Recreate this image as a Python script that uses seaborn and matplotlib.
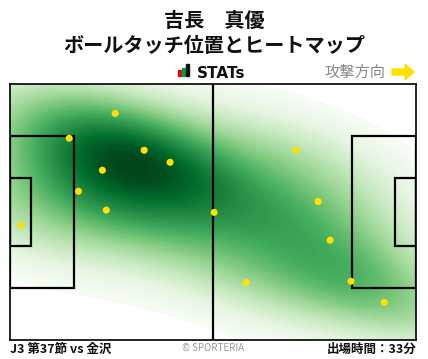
import matplotlib
matplotlib.use("Agg")
import matplotlib.pyplot as plt
import seaborn as sns
import numpy as np
import pandas as pd
from matplotlib.patches import Rectangle, FancyArrow

sns.set_theme(style="white")
plt.rcParams['font.family'] = ['Noto Sans CJK JP', 'DejaVu Sans']

# touch positions in metres (x: 0-105 attacking to the right, y: 0-68 from top)
touch_x = [27.2, 15.3, 34.7, 41.4, 23.9, 17.7, 24.9, 2.8, 52.8, 74.0, 79.7, 82.8, 61.1, 88.2, 96.8]
touch_y = [7.8, 14.4, 17.6, 20.8, 22.9, 28.5, 33.5, 37.5, 34.1, 17.6, 31.2, 41.5, 52.7, 52.4, 58.0]

title_name = "吉長　真優"
title_sub = "ボールタッチ位置とヒートマップ"
footer_left = "J3 第37節 vs 金沢"
footer_right = "出場時間：33分"
direction_label = "攻撃方向"

df = pd.DataFrame({"x": touch_x, "y": touch_y})

W, H = 428, 359
fig = plt.figure(figsize=(W / 100, H / 100), dpi=100)
fig.patch.set_facecolor("white")

ax = fig.add_axes([10 / W, (H - 340) / H, 406 / W, 256 / H])
sns.kdeplot(data=df, x="x", y="y", fill=True, cmap="Greens", levels=100,
            thresh=0.03, bw_adjust=1.08, ax=ax, zorder=1)

lw = 1.6
# pitch lines
ax.plot([52.5, 52.5], [0, 68], color="black", lw=lw, zorder=3)
for x0, w in [(0, 16.5), (105 - 16.5, 16.5)]:
    ax.add_patch(Rectangle((x0, 34 - 20.16), w, 40.32, fill=False, ec="black", lw=lw, zorder=3))
for x0, w in [(0, 5.5), (105 - 5.5, 5.5)]:
    ax.add_patch(Rectangle((x0, 34 - 9.16), w, 18.32, fill=False, ec="black", lw=lw, zorder=3))

ax.scatter(df["x"], df["y"], s=26, color="#FFE000", edgecolors="none", zorder=4)

ax.set_xlim(0, 105)
ax.set_ylim(68, 0)
ax.set_xlabel("")
ax.set_ylabel("")
ax.set_xticks([])
ax.set_yticks([])
for s in ax.spines.values():
    s.set_visible(True)
    s.set_color("black")
    s.set_linewidth(1.2)

# header
fig.text(214 / W, 1 - 20 / H, title_name, ha="center", va="center", fontsize=14.5, fontweight="bold", color="#111111")
fig.text(214 / W, 1 - 46 / H, title_sub, ha="center", va="center", fontsize=14.5, fontweight="bold", color="#111111")

# STATs logo
bars = [(178, 70, 3, 6, "#e60012"), (182, 68, 3, 8, "#00a040"), (186, 64, 3, 12, "#111111")]
for bx, by, bw, bh, c in bars:
    fig.patches.append(Rectangle((bx / W, 1 - (by + bh) / H), bw / W, bh / H,
                                 transform=fig.transFigure, color=c, zorder=5))
fig.text(197 / W, 1 - 73 / H, "STATs", ha="left", va="center", fontsize=11, fontweight="bold",
         color="#111111", family=["DejaVu Sans"])

fig.text(385 / W, 1 - 72 / H, direction_label, ha="right", va="center", fontsize=11, color="#888888")
fig.patches.append(FancyArrow(392 / W, 1 - 72 / H, 13 / W, 0, width=6 / H, head_width=16 / H,
                              head_length=9 / W, length_includes_head=False,
                              transform=fig.transFigure, color="#FFE000", zorder=5))

# footer
fig.text(10 / W, 1 - 349 / H, footer_left, ha="left", va="center", fontsize=9, fontweight="bold", color="#111111")
fig.text(213 / W, 1 - 348 / H, "© SPORTERIA", ha="center", va="center", fontsize=7, color="#999999")
fig.text(417 / W, 1 - 349 / H, footer_right, ha="right", va="center", fontsize=9, fontweight="bold", color="#111111")

fig.savefig("out.png", dpi=100, facecolor="white")
